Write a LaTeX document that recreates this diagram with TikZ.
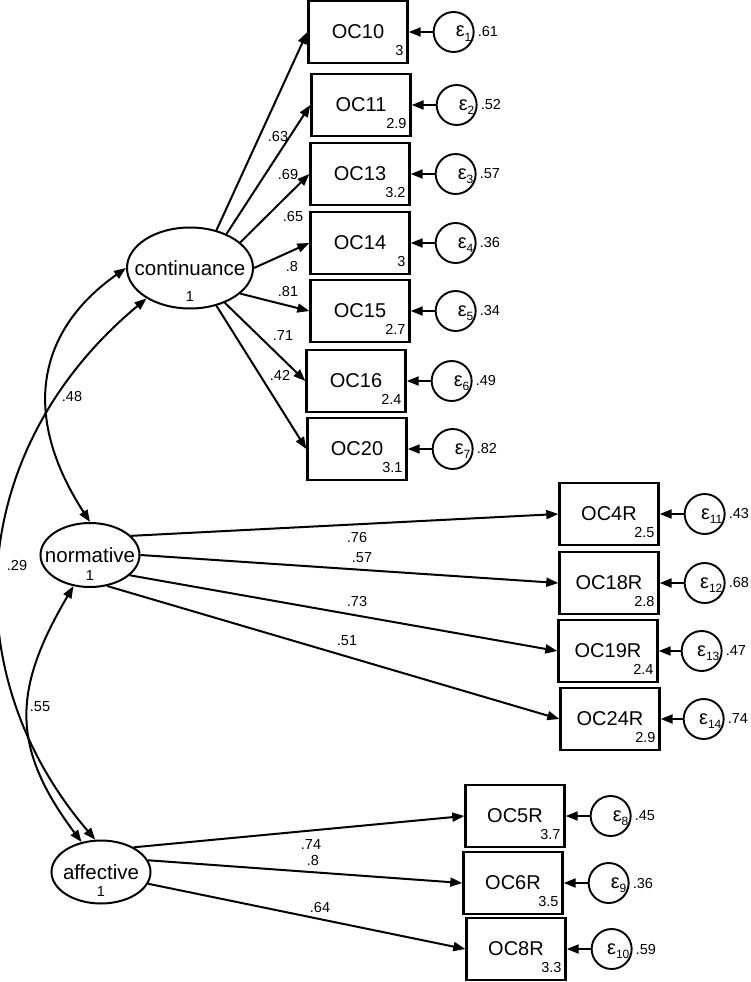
\documentclass[tikz,border=0pt]{standalone}
\usepackage{fontspec}
\setmainfont{Liberation Sans}
\usetikzlibrary{positioning, arrows.meta, shapes.geometric}

\newcommand{\epsi}[1]{ε\raisebox{-4.5pt}{\fontsize{12}{12}\selectfont #1}}

\tikzset{
    obs/.style={
        draw, line width=2.4pt, minimum width=99pt, minimum height=62pt,
        inner sep=0pt, font=\fontsize{20}{24}\selectfont,
        label={[intercept]south east:#1},
    },
    intercept/.style={
        anchor=base east, inner sep=0pt, xshift=-5pt, yshift=9pt,
        font=\fontsize{14.5}{16}\selectfont,
    },
    latent/.style={
        ellipse, draw, line width=2pt, inner sep=0pt,
        font=\fontsize{20.5}{24}\selectfont,
        label={[variance]south:1},
    },
    variance/.style={
        anchor=base, inner sep=0pt, yshift=8pt,
        font=\fontsize{14.5}{16}\selectfont,
    },
    err/.style 2 args={
        circle, draw, line width=1.9pt, minimum size=40pt, inner sep=0pt,
        label={[errname]east:\epsi{#1}},
        label={[coef, anchor=west, inner sep=3pt]east:#2},
    },
    errname/.style={
        anchor=base east, inner sep=0pt, xshift=-3pt, yshift=-5pt,
        font=\fontsize{20}{24}\selectfont,
    },
    coef/.style={inner sep=0pt, font=\fontsize{14.5}{16}\selectfont},
    load/.style={-{Triangle[length=12pt, width=9pt]}, line width=2pt},
    cov/.style={{Triangle[length=12pt, width=9pt]}-{Triangle[length=12pt, width=9pt]}, line width=2pt},
}

\begin{document}
\begin{tikzpicture}[x=1pt, y=-1pt]
\useasboundingbox (0,0) rectangle (751,982);

% ── Latent factors ───────────────────────────────────────────
\node[latent, minimum width=126pt, minimum height=81pt] (cont) at (190,268) {\makebox[0pt]{continuance}};
\node[latent, minimum width=99pt, minimum height=64pt] (norm) at (90,555) {\makebox[0pt]{normative}};
\node[latent, minimum width=99pt, minimum height=63pt] (aff) at (101,872) {\makebox[0pt]{affective}};

% ── Continuance indicators ───────────────────────────────────
\node[obs=3]   (oc10) at (358,32)  {OC10};
\node[obs=2.9] (oc11) at (361,105) {OC11};
\node[obs=3.2] (oc13) at (360,174) {OC13};
\node[obs=3]   (oc14) at (360,243) {OC14};
\node[obs=2.7] (oc15) at (360,311) {OC15};
\node[obs=2.4] (oc16) at (356,381) {OC16};
\node[obs=3.1] (oc20) at (357,449) {OC20};

\node[err={1}{.61}, right=24pt of oc10] (e1) {};
\node[err={2}{.52}, right=24pt of oc11] (e2) {};
\node[err={3}{.57}, right=24pt of oc13] (e3) {};
\node[err={4}{.36}, right=24pt of oc14] (e4) {};
\node[err={5}{.34}, right=24pt of oc15] (e5) {};
\node[err={6}{.49}, right=24pt of oc16] (e6) {};
\node[err={7}{.82}, right=24pt of oc20] (e7) {};

% ── Normative indicators ─────────────────────────────────────
\node[obs=2.5] (oc4r)  at (609,514) {OC4R};
\node[obs=2.8] (oc18r) at (609,583) {OC18R};
\node[obs=2.4] (oc19r) at (608,651) {OC19R};
\node[obs=2.9] (oc24r) at (610,719) {OC24R};

\node[err={11}{.43}, right=24pt of oc4r]  (e11) {};
\node[err={12}{.68}, right=24pt of oc18r] (e12) {};
\node[err={13}{.47}, right=22pt of oc19r] (e13) {};
\node[err={14}{.74}, right=22pt of oc24r] (e14) {};

% ── Affective indicators ─────────────────────────────────────
\node[obs=3.7] (oc5r) at (515,816) {OC5R};
\node[obs=3.5] (oc6r) at (513,883) {OC6R};
\node[obs=3.3] (oc8r) at (516,949) {OC8R};

\node[err={8}{.45},  right=24pt of oc5r] (e8)  {};
\node[err={9}{.36},  right=24pt of oc6r] (e9)  {};
\node[err={10}{.59}, right=24pt of oc8r] (e10) {};

% ── Loadings ─────────────────────────────────────────────────
\draw[load] (cont.55)  -- (oc10.west);
\draw[load] (cont.43)  -- (oc11.west);
\draw[load] (cont.27)  -- (oc13.west);
\draw[load] (cont.east) -- (oc14.west);
\draw[load] (cont.-27) -- (oc15.west);
\draw[load] (cont.-45) -- (oc16.west);
\draw[load] (cont.-55) -- (oc20.west);

\draw[load] (norm.25)  -- (oc4r.west);
\draw[load] (norm.0)   -- (oc18r.west);
\draw[load] (norm.-27) -- (oc19r.west);
\draw[load] (norm.-61) -- (oc24r.west);

\draw[load] (aff.37)  -- (oc5r.west);
\draw[load] (aff.14)  -- (oc6r.west);
\draw[load] (aff.-14) -- (oc8r.west);

% loading values
\node[coef] (l-oc10) at (278,137) {.63};
\node[coef] (l-oc11) at (288,175) {.69};
\node[coef] (l-oc13) at (293,217) {.65};
\node[coef] (l-oc14) at (292,267) {.8};
\node[coef] (l-oc15) at (288,292) {.81};
\node[coef] (l-oc16) at (283,336) {.71};
\node[coef] (l-oc20) at (280,375) {.42};

\node[coef] (l-oc4r)  at (357,538) {.76};
\node[coef] (l-oc18r) at (362,558) {.57};
\node[coef] (l-oc19r) at (357,602) {.73};
\node[coef] (l-oc24r) at (347,641) {.51};

\node[coef] (l-oc5r) at (311,845) {.74};
\node[coef] (l-oc6r) at (313,860) {.8};
\node[coef] (l-oc8r) at (320,907) {.64};

% ── Error terms ──────────────────────────────────────────────
\draw[load] (e1.west) -- (oc10.east);
\draw[load] (e2.west) -- (oc11.east);
\draw[load] (e3.west) -- (oc13.east);
\draw[load] (e4.west) -- (oc14.east);
\draw[load] (e5.west) -- (oc15.east);
\draw[load] (e6.west) -- (oc16.east);
\draw[load] (e7.west) -- (oc20.east);
\draw[load] (e11.west) -- (oc4r.east);
\draw[load] (e12.west) -- (oc18r.east);
\draw[load] (e13.west) -- (oc19r.east);
\draw[load] (e14.west) -- (oc24r.east);
\draw[load] (e8.west) -- (oc5r.east);
\draw[load] (e9.west) -- (oc6r.east);
\draw[load] (e10.west) -- (oc8r.east);

% ── Covariances ──────────────────────────────────────────────
\draw[cov] (cont.west) .. controls +(-88,62) and +(-70,-108) .. (norm.north);
\draw[cov] (cont.215) .. controls +(-180,150) and +(-143,-167) .. (aff.100);
\draw[cov] (norm.-118) .. controls +(-60,102) and +(-72,-96) .. (aff.123);

\node[coef] (r-cn) at (72,397) {.48};
\node[coef] (r-ca) at (17,566) {.29};
\node[coef] (r-na) at (40,707) {.55};

\end{tikzpicture}
\end{document}
